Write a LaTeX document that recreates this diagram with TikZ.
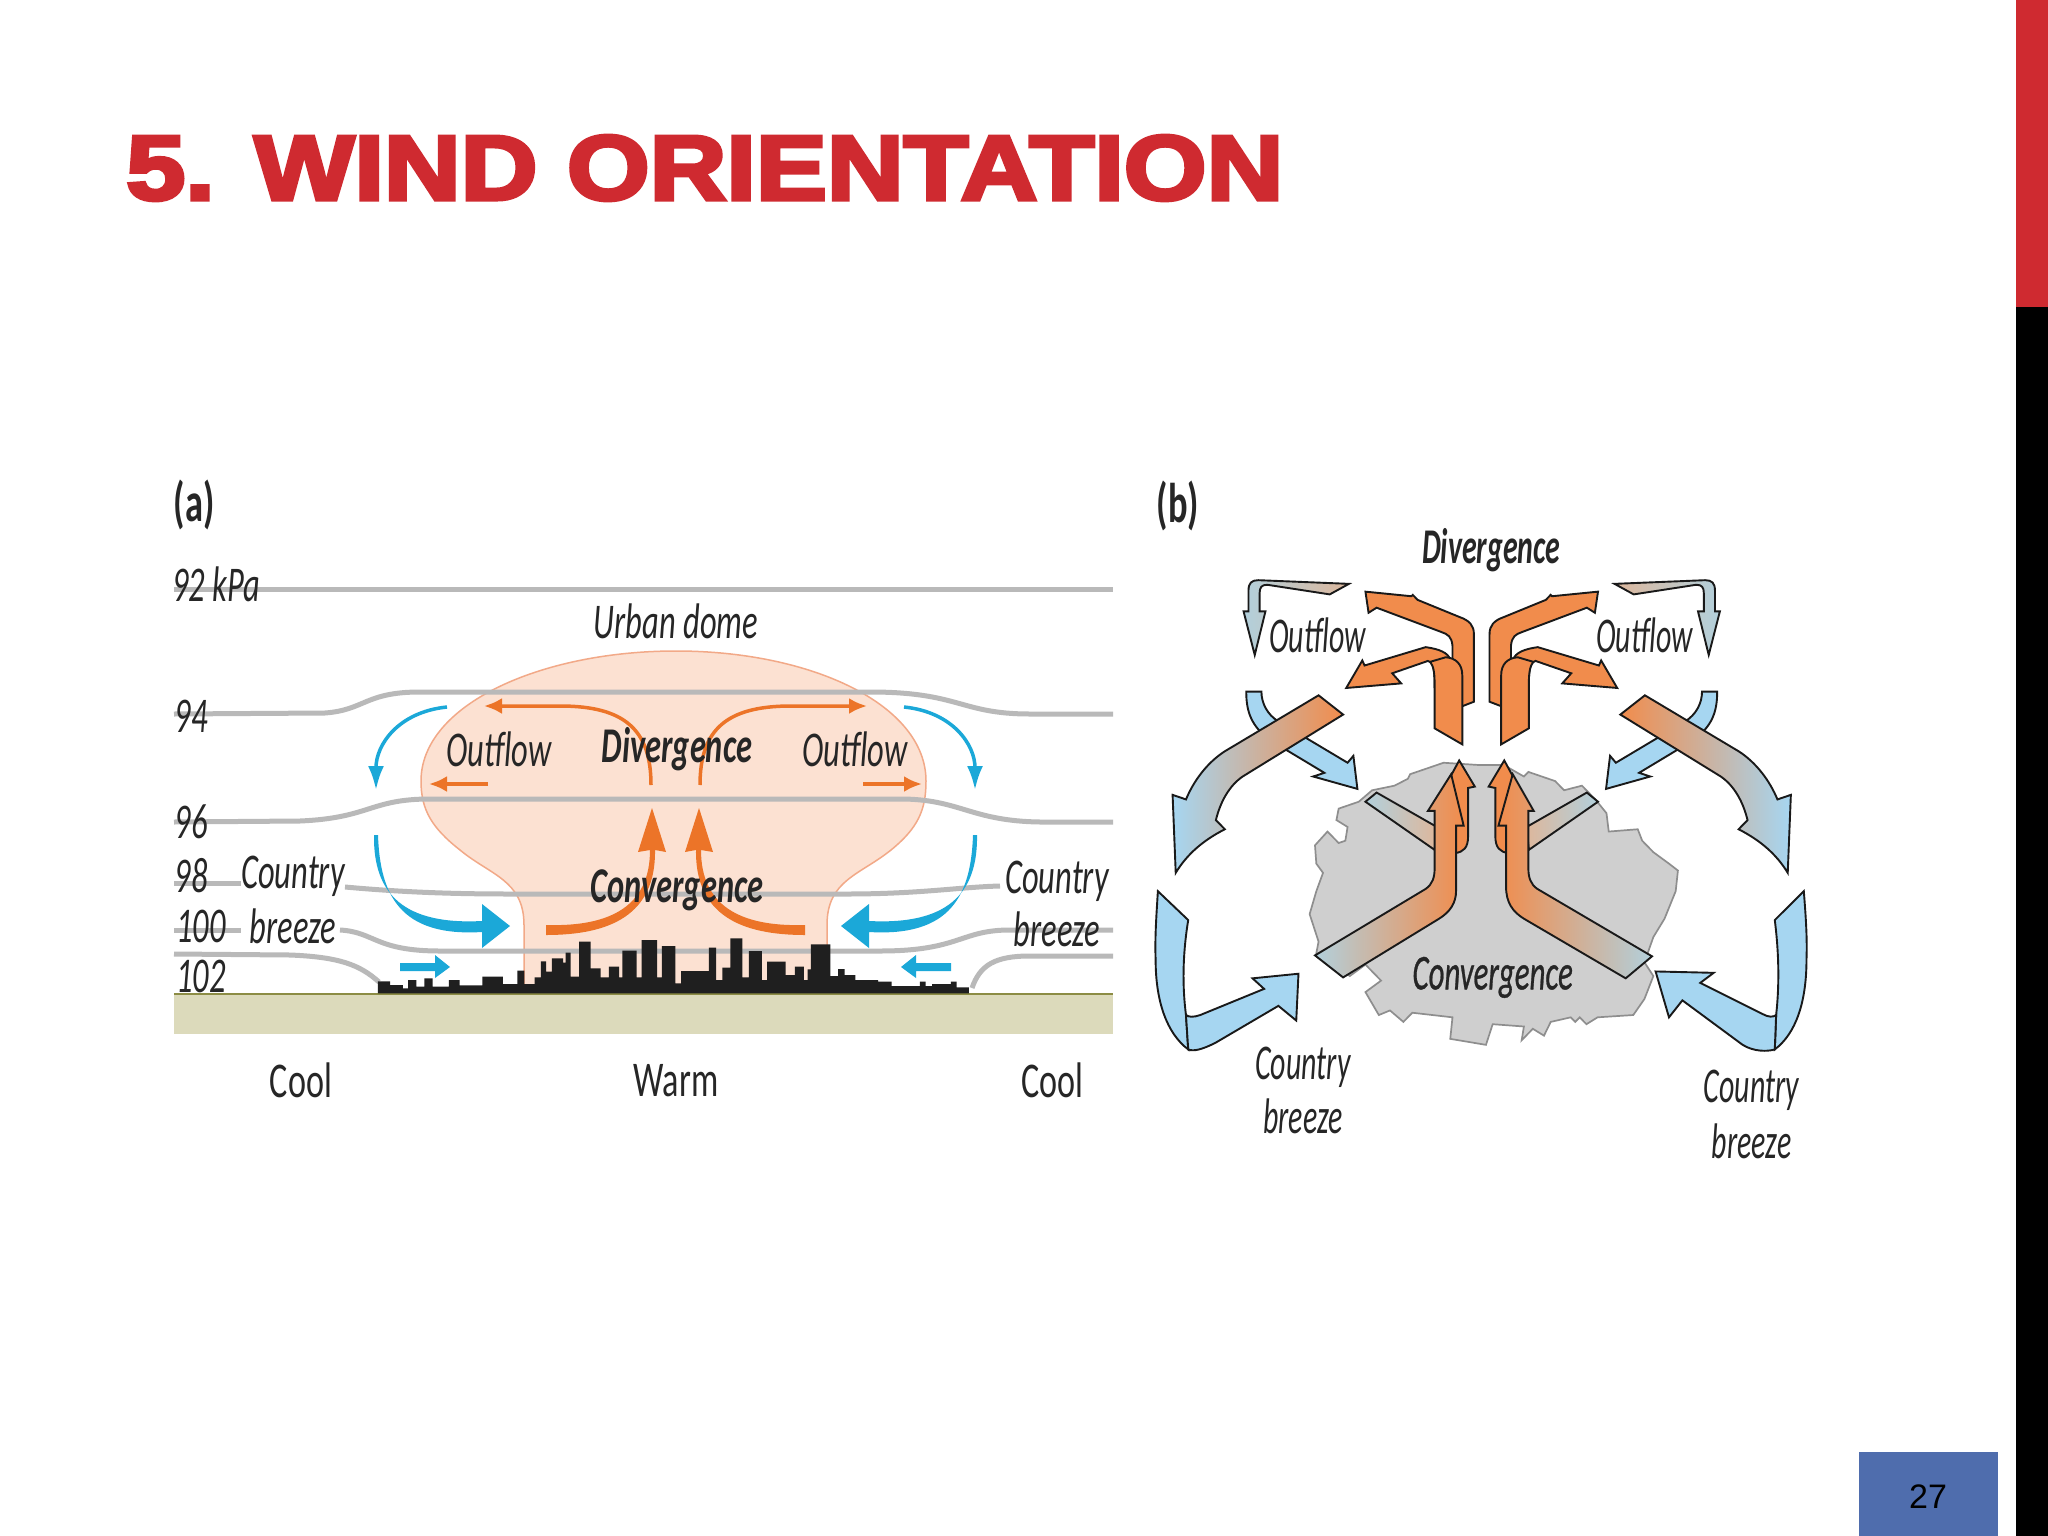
\documentclass[tikz,border=0pt]{standalone}
\usepackage{fontspec}
\usetikzlibrary{arrows.meta}
\newfontfamily\figfont{Carlito}
\newfontfamily\figsemi{Carlito}[ItalicFeatures={FakeBold=.8}]
\newfontfamily\titlefont{Liberation Sans}[BoldFeatures={FakeBold=4}]
\setmainfont{Liberation Sans}
\definecolor{titlered}{HTML}{CF2A30}
\definecolor{pagebox}{HTML}{4F6DAD}
\definecolor{isobar}{HTML}{B9B9B9}
\definecolor{domefill}{HTML}{FCE1D2}
\definecolor{domeedge}{HTML}{F2A988}
\definecolor{groundfill}{HTML}{DCDABB}
\definecolor{groundedge}{HTML}{8C8C44}
\definecolor{breezeblue}{HTML}{1BA8D8}
\definecolor{flowred}{HTML}{EC7428}
\definecolor{windblue}{HTML}{A6D6F1}
\definecolor{windorange}{HTML}{F18C4C}
\definecolor{bandblue}{HTML}{B2D0DC}
\definecolor{bandtan}{HTML}{DDB79C}
\definecolor{cityfill}{HTML}{CFCFCF}
\definecolor{cityedge}{HTML}{8E8E8E}
\tikzset{
  isoline/.style={draw=isobar, line width=5pt},
  thinblue/.style={draw=breezeblue, line width=3.5pt, -{Latex[length=24pt,width=16pt]}},
  thinred/.style={draw=flowred, line width=3.5pt, -{Latex[length=18pt,width=16pt]}},
  ribbon/.style={draw=black!90, line width=1.9pt, line join=miter},
  smalltxt/.style={text=black!85, inner sep=0pt, xscale=.65, transform shape},
  lab/.style={smalltxt, font=\figfont\itshape\fontsize{50}{50}\selectfont},
  labb/.style={lab, xscale=.92},
  labbold/.style={smalltxt, font=\figfont\bfseries\itshape\fontsize{50}{50}\selectfont},
  labsemi/.style={smalltxt, font=\figsemi\itshape\fontsize{50}{50}\selectfont},
  labup/.style={smalltxt, xscale=1.05, font=\figfont\fontsize{50}{50}\selectfont},
  labpanel/.style={smalltxt, font=\figfont\bfseries\fontsize{56}{56}\selectfont},
}
\begin{document}
\begin{tikzpicture}[x=1pt,y=-1pt]
\useasboundingbox (0,0) rectangle (2048,1536);
\fill[white] (0,0) rectangle (2048,1536);

% slide furniture
\fill[black] (2016,0) rectangle (2048,1536);
\fill[titlered] (2016,0) rectangle (2048,307);
\fill[pagebox] (1859,1452) rectangle (1998,1536);
\node (pagenum) at (1928,1497) {\fontsize{34}{34}\selectfont 27};
\node[anchor=west, inner sep=0pt, text=titlered, xscale=1.155, transform shape] (title) at (126,168)
  {\titlefont\bfseries\fontsize{92}{92}\selectfont 5. WIND ORIENTATION};

% panel a
\fill[groundfill] (174,993) rectangle (1113,1034);
\draw[groundedge, line width=2.5pt] (174,994) -- (1113,994);
\draw[draw=domeedge, fill=domefill, line width=1.5pt] (524,990) -- (524,925)
  .. controls (524,880) and (490,875) .. (460,850)
  .. controls (432,828) and (421,810) .. (421,781)
  .. controls (421,705) and (540,651) .. (676,651)
  .. controls (812,651) and (926,705) .. (926,781)
  .. controls (926,810) and (918,828) .. (891,850)
  .. controls (860,875) and (827,880) .. (827,925) -- (827,990);

\draw[isoline] (174,589) -- (1113,589);
\draw[isoline] (174,714) -- (325,713) .. controls (365,710) and (365,692) .. (420,692)
  -- (870,692) .. controls (960,692) and (960,714) .. (1030,714) -- (1113,714);
\draw[isoline] (174,822) -- (300,821) .. controls (370,818) and (370,799) .. (430,799)
  -- (900,799) .. controls (960,799) and (970,821) .. (1040,822) -- (1113,822);
\draw[isoline] (174,883) -- (241,883);
\draw[isoline] (345,887) .. controls (400,892) and (450,894) .. (510,894) -- (847,894)
  .. controls (920,894) and (960,887) .. (1000,886);
\draw[isoline] (174,930) -- (241,930);
\draw[isoline] (340,930) .. controls (375,932) and (375,951) .. (440,951) -- (880,951)
  .. controls (960,951) and (960,930) .. (1010,930) -- (1113,930);
\draw[isoline] (174,954) -- (290,955) .. controls (340,957) and (360,965) .. (379,982);
\draw[isoline] (972,988) .. controls (980,965) and (995,956) .. (1030,956) -- (1113,956);

% skyline, outline read off left to right
\begin{scope}[shift={(360,900)},x=.408pt,y=-.3333pt]
\fill[black!88] (44,280) |- (74,244) |- (105,255) |- (118,265) |- (138,240) |- (158,260)
  |- (178,235) |- (218,260) |- (244,240) |- (300,256) |- (350,230) |- (386,252)
  |- (403,212) |- (428,252) |- (443,232) |- (456,184) |- (470,215) |- (498,175)
  |- (504,188) |- (516,158) |- (537,230) |- (565,125) |- (590,205) |- (610,232)
  |- (635,200) |- (643,232) |- (678,152) |- (690,232) |- (728,120) |- (740,232)
  |- (773,138) |- (787,250) |- (855,213) |- (873,143) |- (888,240) |- (908,203)
  |- (937,115) |- (953,232) |- (985,153) |- (998,240) |- (1043,185) |- (1066,225)
  |- (1088,200) |- (1097,240) |- (1105,208) |- (1153,133) |- (1172,228) |- (1188,207)
  |- (1214,225) |- (1270,240) |- (1303,245) |- (1372,258) |- (1386,245) |- (1402,258)
  |- (1448,252) |- (1462,245) |- (1492,262) |- (1492,280) -- cycle;
\end{scope}

% arrows of panel a, left then mirrored
\foreach \sh/\mirr in {0/1,1351/-1}{
\begin{scope}[shift={(\sh,0)},xscale=\mirr]
\draw[thinblue] (447,707) .. controls (398,712) and (376,745) .. (376,790);
\fill[breezeblue] (374,835) .. controls (373,895) and (405,925) .. (482,921) -- (482,904)
  -- (510,926) -- (482,948) -- (482,932) .. controls (400,937) and (380,895) .. (378,835) -- cycle;
\fill[breezeblue] (400,963) -- (435,963) -- (435,955) -- (450,967) -- (435,978) -- (435,971) -- (400,971) -- cycle;
\draw[thinred] (651,785) .. controls (651,730) and (625,706) .. (560,706) -- (484,706);
\draw[thinred] (488,784) -- (429,784);
\fill[flowred] (546,925) .. controls (612,927) and (650,905) .. (650,850) -- (638,852)
  -- (652,808) -- (666,852) -- (655,850) .. controls (656,915) and (610,935) .. (546,935) -- cycle;
\end{scope}
}

\node[labpanel] (labela) at (194,505) {(a)};
\node[lab] (p92) at (216,584) {92 kPa};
\node[lab] (p94) at (191,716) {94};
\node[lab] (p96) at (191,822) {96};
\node[lab] (p98) at (191,876) {98};
\node[lab] (p100) at (201,926) {100};
\node[lab] (p102) at (201,976) {102};
\node[lab] (countryl) at (293,876) {Country};
\node[lab] (breezel) at (293,926) {breeze};
\node[lab] (countryr) at (1057,881) {Country};
\node[lab] (breezer) at (1057,929) {breeze};
\node[lab] (dome) at (676,621) {Urban dome};
\node[lab] (outl) at (499,749) {Outflow};
\node[lab] (outr) at (855,749) {Outflow};
\node[labbold] (diverga) at (677,749) {Divergence};
\node[labbold] (converga) at (677,890) {Convergence};
\node[labup] (cooll) at (301,1080) {Cool};
\node[labup] (warm) at (676,1081) {Warm};
\node[labup] (coolr) at (1052,1080) {Cool};

% panel b
\begin{scope}[shift={(1140,460)},x=.4464pt,y=-.4587pt]
\draw[draw=cityedge, fill=cityfill, line width=1.7pt] (620,680) -- (605,685) -- (600,695) -- (570,710)
  -- (520,720) -- (490,745) -- (445,760) -- (440,785) -- (465,800) -- (460,830) -- (445,835)
  -- (420,810) -- (392,840) -- (395,880) -- (410,900) -- (395,940) -- (380,990) -- (400,1050)
  -- (395,1075) -- (470,1125) -- (505,1100) -- (540,1135) -- (505,1160) -- (535,1210) -- (560,1200)
  -- (590,1225) -- (610,1205) -- (700,1215) -- (695,1262) -- (775,1275) -- (790,1230) -- (860,1235)
  -- (855,1265) -- (880,1240) -- (905,1255) -- (920,1225) -- (965,1215) -- (975,1225) -- (985,1215)
  -- (1000,1230) -- (1025,1215) -- (1105,1210) -- (1130,1175) -- (1150,1125) -- (1130,1095)
  -- (1150,1040) -- (1175,1000) -- (1200,940) -- (1205,895) -- (1185,880) -- (1150,855)
  -- (1125,830) -- (1115,805) -- (1050,810) -- (1045,770) -- (1020,740) -- (990,710) -- (950,720)
  -- (930,700) -- (870,680) -- (860,690) -- (815,665) -- (760,665) -- (680,660) -- cycle;

\foreach \sh/\mirr/\cA/\cB/\bA/\bB in {0/1/windblue/windorange/bandblue/bandtan,1531/-1/windorange/windblue/bandtan/bandblue}{
\begin{scope}[shift={(\sh,0)},xscale=\mirr]
% thin one on top
\path[ribbon, left color=\bA, right color=\bB] (468,270) -- (425,293) -- (285,272)
  .. controls (272,272) and (268,278) .. (268,290) -- (268,330) -- (281,330) -- (257,425) -- (232,330)
  -- (243,330) -- (243,285) .. controls (243,268) and (250,262) .. (265,262) -- cycle;
% blue under the big one
\path[ribbon, fill=windblue] (238,505) -- (272,505) .. controls (272,530) and (285,555) .. (310,570)
  -- (465,660) -- (478,645) -- (487,717) -- (388,690) -- (413,682) -- (290,610)
  .. controls (250,580) and (238,550) .. (238,505) -- cycle;
% big one
\path[ribbon, left color=\cA, middle color=\cA!50!\cB, right color=\cB] (400,513) -- (455,555) -- (230,690)
  .. controls (200,710) and (180,745) .. (170,785) -- (190,805) .. controls (140,830) and (105,860) .. (80,900)
  -- (73,730) -- (103,740) .. controls (120,700) and (150,660) .. (190,635) -- cycle;
% orange ones at the top
\path[ribbon, fill=windorange] (505,287) -- (608,297) -- (611,294) -- (622,305) -- (715,342)
  .. controls (738,350) and (748,360) .. (748,380) -- (748,527) -- (700,545) -- (700,405)
  .. controls (698,385) and (690,380) .. (675,375) -- (530,322) -- (512,333) -- cycle;
\path[ribbon, fill=windorange] (462,497) -- (498,437) -- (503,448) -- (640,408)
  .. controls (670,412) and (690,420) .. (695,435) -- (660,490) .. controls (660,450) and (655,440) .. (645,438)
  -- (565,465) -- (585,487) -- cycle;
\path[ribbon, fill=windorange] (660,585) -- (722,620) -- (722,470) .. controls (722,445) and (708,432) .. (685,430)
  -- (650,440) .. controls (658,450) and (660,465) .. (660,490) -- cycle;
% band and second head over the city
\path[ribbon, left color=\bA, right color=\bB] (505,745) -- (530,725) -- (665,800) -- (660,850) -- cycle;
\path[ribbon, fill=windorange] (715,655) -- (750,712) -- (735,715) -- (735,820)
  .. controls (735,845) and (725,855) .. (705,857) -- (690,857) -- (690,700) -- cycle;
\end{scope}
}

% these two are not quite symmetric
\path[ribbon, left color=bandblue, middle color=windorange, right color=windorange] (392,1080) -- (640,935)
  .. controls (655,925) and (660,910) .. (660,890) -- (660,765) -- (645,765) -- (697,685) -- (725,797)
  -- (708,797) -- (708,940) .. controls (708,965) and (695,985) .. (670,1000) -- (455,1128) -- cycle;
\path[ribbon, left color=windorange, middle color=windorange, right color=bandblue] (1147,1082) -- (890,935)
  .. controls (875,925) and (870,910) .. (870,890) -- (870,765) -- (882,765) -- (835,685) -- (803,797)
  -- (820,797) -- (820,930) .. controls (820,965) and (835,985) .. (860,1000) -- (1088,1130) -- cycle;

% country breeze ribbons
\path[ribbon, fill=windblue] (40,940) -- (108,1003) .. controls (95,1080) and (95,1150) .. (103,1210) -- (108,1285)
  .. controls (60,1250) and (35,1180) .. (35,1090) .. controls (33,1040) and (37,990) .. (40,940) -- cycle;
\path[ribbon, fill=windblue] (103,1210) .. controls (110,1215) and (120,1215) .. (135,1210) -- (278,1153) -- (252,1130)
  -- (355,1120) -- (350,1222) -- (310,1190) -- (170,1270) .. controls (140,1285) and (120,1290) .. (108,1285) -- cycle;
\path[ribbon, fill=windblue] (1487,940) -- (1422,1003) .. controls (1432,1080) and (1432,1150) .. (1425,1210) -- (1422,1285)
  .. controls (1470,1250) and (1493,1180) .. (1493,1090) .. controls (1495,1040) and (1491,990) .. (1487,940) -- cycle;
\path[ribbon, fill=windblue] (1425,1210) .. controls (1418,1215) and (1408,1215) .. (1395,1208) -- (1255,1140) -- (1285,1118)
  -- (1155,1115) -- (1185,1215) -- (1215,1178) -- (1350,1275) .. controls (1375,1290) and (1405,1290) .. (1422,1285) -- cycle;

\node[labpanel] (labelb) at (85,100) {(b)};
\node[labbold, xscale=.92] (divergb) at (787,197) {Divergence};
\node[labb] (outbl) at (398,383) {Outflow};
\node[labb] (outbr) at (1130,383) {Outflow};
\node[labsemi, xscale=.95] (convergb) at (790,1128) {Convergence};
\node[labb] (countrybl) at (365,1325) {Country};
\node[labb] (breezebl) at (365,1430) {breeze};
\node[labb] (countrybr) at (1370,1375) {Country};
\node[labb] (breezebr) at (1370,1485) {breeze};
\end{scope}
\end{tikzpicture}
\end{document}
